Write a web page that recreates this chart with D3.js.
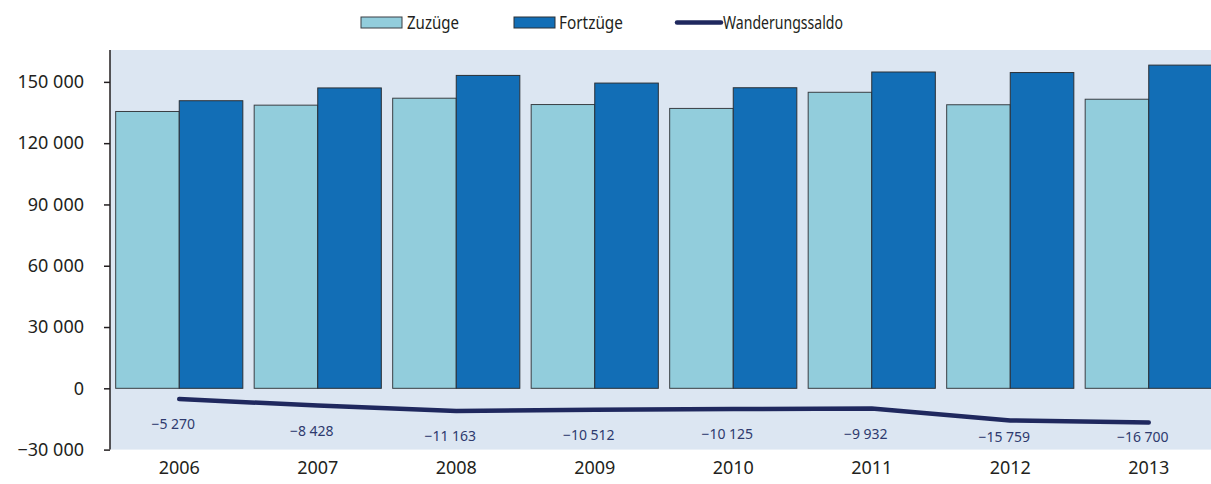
<!DOCTYPE html>
<html>
<head>
<meta charset="utf-8">
<script src="https://cdn.jsdelivr.net/npm/d3@7"></script>
<style>
  body { margin: 0; background: #fff; }
  text { font-family: "Noto Sans", sans-serif; fill: #231f20; }
  .legend text { font-size: 18px; }
</style>
</head>
<body>
<div id="chart-container"></div>
<script>
// Data
var years = ["2006", "2007", "2008", "2009", "2010", "2011", "2012", "2013"];
var zuzuege = [135500, 138600, 142000, 138900, 137000, 144900, 138800, 141500];
var fortzuege = [140770, 147030, 153160, 149410, 147120, 154830, 154560, 158200];
var saldo = [-5270, -8428, -11163, -10512, -10125, -9932, -15759, -16700];
var yTicks = [-30000, 0, 30000, 60000, 90000, 120000, 150000];

var width = 1211, height = 484;
var plot = { left: 110, right: 1218, top: 50, bottom: 449.6 };

var svg = d3.select("#chart-container")
    .append("svg")
    .attr("width", width)
    .attr("height", height);

// Scales
var xScale = d3.scaleBand()
    .domain(years)
    .range([plot.left, plot.right])
    .paddingInner(0.082)
    .paddingOuter(0.041);

var xSub = d3.scaleBand()
    .domain(["Zuzüge", "Fortzüge"])
    .range([0, xScale.bandwidth()]);

var yScale = d3.scaleLinear()
    .domain([-30000, 165600])
    .range([plot.bottom, plot.top]);

var fmt = function(v) {
    var s = d3.format(",")(Math.abs(v)).replace(/,/g, " ");
    return (v < 0 ? "\u2212" : "") + s;
};

// Plot background
svg.append("rect")
    .attr("x", plot.left)
    .attr("y", plot.top)
    .attr("width", plot.right - plot.left)
    .attr("height", plot.bottom - plot.top)
    .attr("fill", "#dce6f2");

// Bars
var groups = svg.append("g")
    .selectAll("g")
    .data(years)
    .enter().append("g")
    .attr("transform", d => "translate(" + xScale(d) + ",0)");

groups.append("rect")
    .attr("x", xSub("Zuzüge"))
    .attr("y", (d, i) => yScale(zuzuege[i]))
    .attr("width", xSub.bandwidth())
    .attr("height", (d, i) => yScale(0) - yScale(zuzuege[i]))
    .attr("fill", "#92cddc")
    .attr("stroke", "#3a3f44")
    .attr("stroke-width", 1);

groups.append("rect")
    .attr("x", xSub("Fortzüge"))
    .attr("y", (d, i) => yScale(fortzuege[i]))
    .attr("width", xSub.bandwidth())
    .attr("height", (d, i) => yScale(0) - yScale(fortzuege[i]))
    .attr("fill", "#126eb6")
    .attr("stroke", "#2b3036")
    .attr("stroke-width", 1);

// Saldo line
var lineSaldo = d3.line()
    .x((d, i) => xScale(years[i]) + xScale.bandwidth() / 2)
    .y(d => yScale(d));

svg.append("path")
    .datum(saldo)
    .attr("fill", "none")
    .attr("stroke", "#1f285e")
    .attr("stroke-width", 4.5)
    .attr("stroke-linecap", "round")
    .attr("stroke-linejoin", "round")
    .attr("d", lineSaldo);

svg.append("g")
    .selectAll("text")
    .data(saldo)
    .enter().append("text")
    .attr("x", (d, i) => xScale(years[i]) + xScale.bandwidth() / 2 - 6)
    .attr("y", d => Math.min(yScale(d) + 30, 442))
    .attr("text-anchor", "middle")
    .style("font-size", "14px")
    .style("fill", "#2e3a6e")
    .text(d => fmt(d));

// Y axis
var yAxis = svg.append("g")
    .attr("transform", "translate(" + plot.left + ",0)")
    .call(d3.axisLeft(yScale).tickValues(yTicks).tickFormat(fmt).tickSize(6).tickPadding(20));

yAxis.select(".domain")
    .attr("d", "M0," + plot.top + "V" + plot.bottom)
    .attr("stroke", "#231f20")
    .attr("stroke-width", 1.5);
yAxis.selectAll(".tick line").attr("stroke", "#231f20").attr("stroke-width", 1.5);
yAxis.selectAll(".tick text")
    .style("font-size", "18px")
    .style("font-family", "'Noto Sans', sans-serif")
    .attr("fill", "#231f20");

// X axis labels (no axis line)
var xAxis = svg.append("g")
    .attr("transform", "translate(0," + plot.bottom + ")")
    .call(d3.axisBottom(xScale).tickSize(0).tickPadding(12));
xAxis.select(".domain").remove();
xAxis.selectAll(".tick text")
    .style("font-size", "18px")
    .style("font-family", "'Noto Sans', sans-serif")
    .attr("fill", "#231f20");

// Legend (text squeezed to the narrower original face)
var legend = svg.append("g").attr("class", "legend");

legend.append("rect")
    .attr("x", 361).attr("y", 17)
    .attr("width", 41).attr("height", 11)
    .attr("fill", "#92cddc").attr("stroke", "#3a3f44");
legend.append("text")
    .attr("x", 407).attr("y", 29)
    .attr("textLength", 52).attr("lengthAdjust", "spacingAndGlyphs")
    .text("Zuzüge");

legend.append("rect")
    .attr("x", 514).attr("y", 17)
    .attr("width", 41).attr("height", 11)
    .attr("fill", "#126eb6").attr("stroke", "#2b3036");
legend.append("text")
    .attr("x", 559).attr("y", 29)
    .attr("textLength", 64).attr("lengthAdjust", "spacingAndGlyphs")
    .text("Fortzüge");

legend.append("line")
    .attr("x1", 677).attr("x2", 721)
    .attr("y1", 22.5).attr("y2", 22.5)
    .attr("stroke", "#1f285e")
    .attr("stroke-width", 4.5)
    .attr("stroke-linecap", "round");
legend.append("text")
    .attr("x", 723).attr("y", 29)
    .attr("textLength", 120).attr("lengthAdjust", "spacingAndGlyphs")
    .text("Wanderungssaldo");
</script>
</body>
</html>
